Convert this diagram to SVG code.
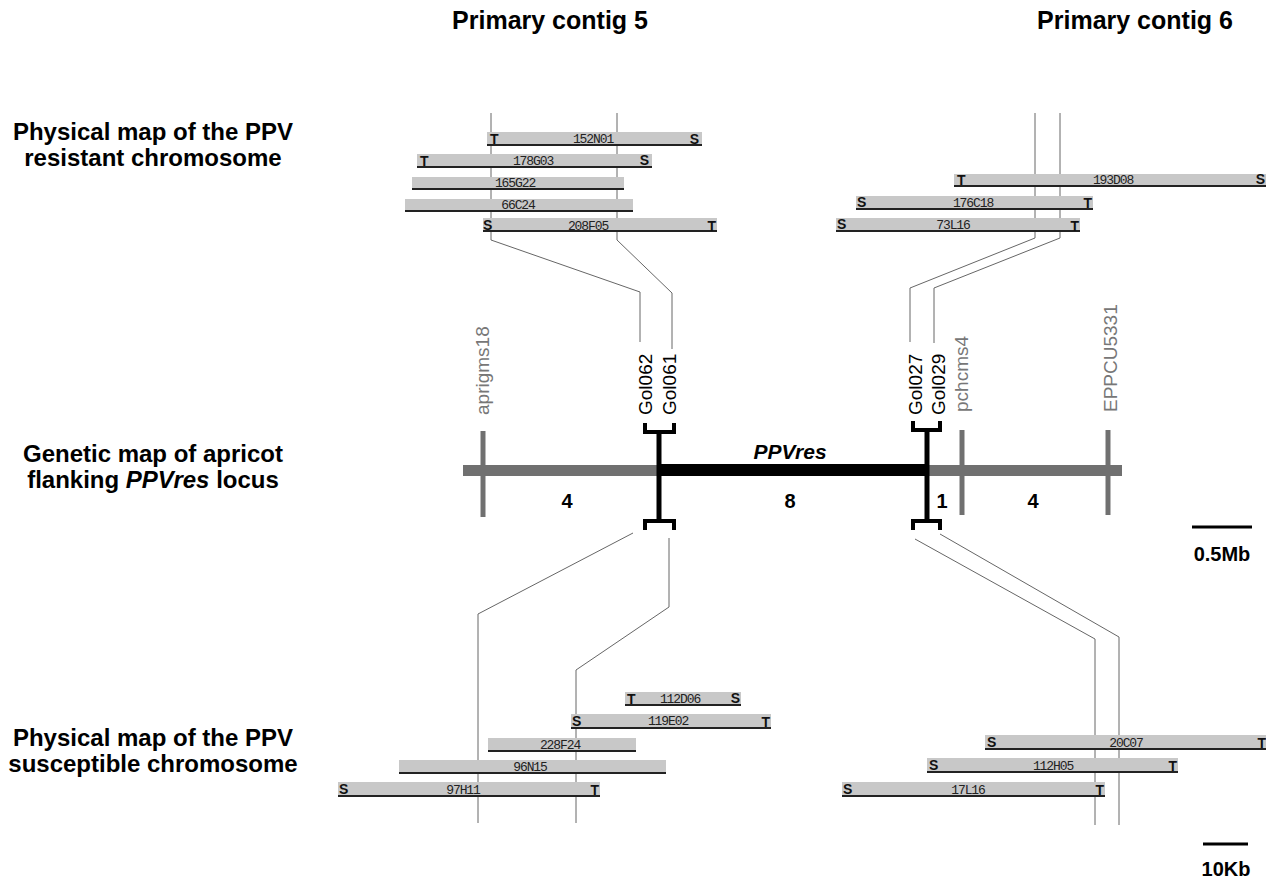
<svg xmlns="http://www.w3.org/2000/svg" width="1266" height="878" viewBox="0 0 1266 878">
<style>
.title{font-family:"Liberation Sans",Arial,sans-serif;font-weight:bold;font-size:25px;fill:#000;text-anchor:middle}
.side{font-family:"Liberation Sans",Arial,sans-serif;font-weight:bold;font-size:24px;fill:#000;text-anchor:middle}
.bar{fill:#c8c8c8}
.base{stroke:#222;stroke-width:2}
.st{font-family:"Liberation Sans",Arial,sans-serif;font-weight:bold;font-size:14px;fill:#111}
.cl{font-family:"Liberation Mono","DejaVu Sans Mono",monospace;font-size:13px;letter-spacing:-1.1px;fill:#222;text-anchor:middle}
.con{fill:none;stroke:#666;stroke-width:1}
.mk{font-family:"Liberation Sans",Arial,sans-serif;font-size:19px}
.gol{fill:#000}
.gm{fill:#777}
.num{font-family:"Liberation Sans",Arial,sans-serif;font-weight:bold;font-size:20px;fill:#000;text-anchor:middle}
.gtick{stroke:#707070;stroke-width:5}
.btick{stroke:#000;stroke-width:5}
.brk{fill:none;stroke:#000;stroke-width:4}
</style>

<g id="titles">
<text class="title" x="550" y="29">Primary contig 5</text>
<text class="title" x="1135" y="29">Primary contig 6</text>
</g>

<g id="label-resistant">
<text class="side" x="153" y="140">Physical map of the PPV</text>
<text class="side" x="153" y="166">resistant chromosome</text>
</g>
<g id="label-genetic">
<text class="side" x="153" y="462">Genetic map of apricot</text>
<text class="side" x="153" y="488">flanking <tspan font-style="italic">PPVres</tspan> locus</text>
</g>
<g id="label-susceptible">
<text class="side" x="153" y="746">Physical map of the PPV</text>
<text class="side" x="153" y="772">susceptible chromosome</text>
</g>

<g id="connectors">
<path class="con" d="M491,113 V240 L640,292 V342"/>
<path class="con" d="M617,113 V240 L672,293 V349"/>
<path class="con" d="M1035,113 V238 L910,288 V342"/>
<path class="con" d="M1060,113 V238 L934,288 V343"/>
<path class="con" d="M633,533 L478,614 V823"/>
<path class="con" d="M669,538 V607 L576,670 V823"/>
<path class="con" d="M915,539 L1095,639 V825"/>
<path class="con" d="M940,534 L1119,637 V825"/>
</g>

<!-- upper left clones -->
<g id="clone-152N01"><rect class="bar" x="487" y="132" width="215" height="14"/><line class="base" x1="487" y1="145" x2="702" y2="145"/><text class="st" x="490" y="144">T</text><text class="st" x="699" y="144" text-anchor="end">S</text><text class="cl" x="593" y="143">152N01</text></g>
<g id="clone-178G03"><rect class="bar" x="417" y="154" width="235" height="14"/><line class="base" x1="417" y1="167" x2="652" y2="167"/><text class="st" x="420" y="166">T</text><text class="st" x="649" y="165" text-anchor="end">S</text><text class="cl" x="533" y="165">178G03</text></g>
<g id="clone-165G22"><rect class="bar" x="412" y="177" width="212" height="13"/><line class="base" x1="412" y1="189" x2="624" y2="189"/><text class="cl" x="515" y="187">165G22</text></g>
<g id="clone-66C24"><rect class="bar" x="405" y="199" width="228" height="13"/><line class="base" x1="405" y1="211" x2="633" y2="211"/><text class="cl" x="518" y="209">66C24</text></g>
<g id="clone-208F05"><rect class="bar" x="483" y="218" width="234" height="14"/><line class="base" x1="483" y1="231" x2="717" y2="231"/><text class="st" x="483" y="230">S</text><text class="st" x="716" y="231" text-anchor="end">T</text><text class="cl" x="588" y="230">208F05</text></g>

<!-- upper right clones -->
<g id="clone-193D08"><rect class="bar" x="954" y="174" width="312" height="13"/><line class="base" x1="954" y1="186" x2="1266" y2="186"/><text class="st" x="957" y="185">T</text><text class="st" x="1265" y="184" text-anchor="end">S</text><text class="cl" x="1113" y="184">193D08</text></g>
<g id="clone-176C18"><rect class="bar" x="856" y="196" width="237" height="14"/><line class="base" x1="856" y1="209" x2="1093" y2="209"/><text class="st" x="857" y="207">S</text><text class="st" x="1092" y="208" text-anchor="end">T</text><text class="cl" x="973" y="207">176C18</text></g>
<g id="clone-73L16"><rect class="bar" x="836" y="218" width="244" height="14"/><line class="base" x1="836" y1="231" x2="1080" y2="231"/><text class="st" x="837" y="229">S</text><text class="st" x="1079" y="231" text-anchor="end">T</text><text class="cl" x="953" y="229">73L16</text></g>

<!-- lower left clones -->
<g id="clone-112D06"><rect class="bar" x="625" y="692" width="116" height="14"/><line class="base" x1="625" y1="705" x2="741" y2="705"/><text class="st" x="627" y="704">T</text><text class="st" x="740" y="703" text-anchor="end">S</text><text class="cl" x="680" y="703">112D06</text></g>
<g id="clone-119E02"><rect class="bar" x="571" y="714" width="200" height="14"/><line class="base" x1="571" y1="728" x2="771" y2="728"/><text class="st" x="572" y="726">S</text><text class="st" x="770" y="727" text-anchor="end">T</text><text class="cl" x="668" y="725">119E02</text></g>
<g id="clone-228F24"><rect class="bar" x="488" y="738" width="148" height="13"/><line class="base" x1="488" y1="751" x2="636" y2="751"/><text class="cl" x="560" y="749">228F24</text></g>
<g id="clone-96N15"><rect class="bar" x="399" y="760" width="267" height="14"/><line class="base" x1="399" y1="773" x2="666" y2="773"/><text class="cl" x="530" y="771">96N15</text></g>
<g id="clone-97H11"><rect class="bar" x="338" y="782" width="262" height="14"/><line class="base" x1="338" y1="796" x2="600" y2="796"/><text class="st" x="339" y="794">S</text><text class="st" x="599" y="795" text-anchor="end">T</text><text class="cl" x="463" y="794">97H11</text></g>

<!-- lower right clones -->
<g id="clone-20C07"><rect class="bar" x="985" y="735" width="281" height="14"/><line class="base" x1="985" y1="749" x2="1266" y2="749"/><text class="st" x="987" y="747">S</text><text class="st" x="1266" y="748" text-anchor="end">T</text><text class="cl" x="1126" y="747">20C07</text></g>
<g id="clone-112H05"><rect class="bar" x="927" y="758" width="251" height="14"/><line class="base" x1="927" y1="772" x2="1178" y2="772"/><text class="st" x="929" y="770">S</text><text class="st" x="1177" y="771" text-anchor="end">T</text><text class="cl" x="1053" y="770">112H05</text></g>
<g id="clone-17L16"><rect class="bar" x="842" y="782" width="263" height="14"/><line class="base" x1="842" y1="796" x2="1105" y2="796"/><text class="st" x="843" y="794">S</text><text class="st" x="1104" y="795" text-anchor="end">T</text><text class="cl" x="968" y="794">17L16</text></g>

<!-- genetic map -->
<g id="genetic-map">
<rect x="463" y="465" width="659" height="11" fill="#707070"/>
<rect x="657" y="464" width="270" height="12" fill="#000"/>
<line class="gtick" x1="483" y1="431" x2="483" y2="517"/>
<line class="gtick" x1="962" y1="430" x2="962" y2="515"/>
<line class="gtick" x1="1108" y1="430" x2="1108" y2="515"/>
<line class="btick" x1="659" y1="430" x2="659" y2="523"/>
<line class="btick" x1="927" y1="430" x2="927" y2="523"/>
<path class="brk" d="M645,423 V432 H674 V423"/>
<path class="brk" d="M645,530 V521 H674 V530"/>
<path class="brk" d="M913,421 V430 H940 V421"/>
<path class="brk" d="M913,530 V521 H940 V530"/>
<text class="num" x="567" y="508">4</text>
<text class="num" x="790" y="508">8</text>
<text class="num" x="942" y="508">1</text>
<text class="num" x="1033" y="508">4</text>
<text class="num" x="790" y="459" font-style="italic" style="font-size:21px">PPVres</text>
</g>

<g id="markers">
<text class="mk gm" transform="translate(489,415) rotate(-90)">aprigms18</text>
<text class="mk gol" transform="translate(652,415) rotate(-90)">Gol062</text>
<text class="mk gol" transform="translate(676,415) rotate(-90)">Gol061</text>
<text class="mk gol" transform="translate(922,415) rotate(-90)">Gol027</text>
<text class="mk gol" transform="translate(945,415) rotate(-90)">Gol029</text>
<text class="mk gm" transform="translate(968,412) rotate(-90)">pchcms4</text>
<text class="mk gm" transform="translate(1117,412) rotate(-90)">EPPCU5331</text>
</g>

<g id="scale-05Mb">
<line x1="1192" y1="527" x2="1252" y2="527" stroke="#000" stroke-width="3"/>
<text class="num" x="1222" y="561">0.5Mb</text>
</g>
<g id="scale-10Kb">
<line x1="1203" y1="844" x2="1248" y2="844" stroke="#000" stroke-width="3"/>
<text class="num" x="1226" y="876">10Kb</text>
</g>
</svg>
